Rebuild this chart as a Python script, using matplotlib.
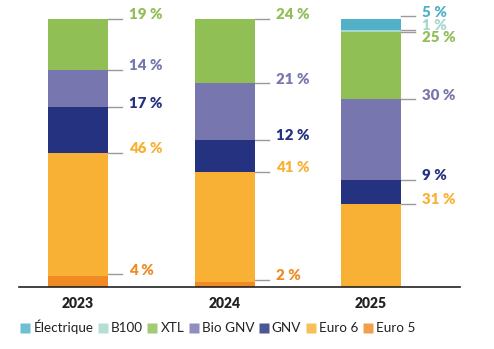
import matplotlib
matplotlib.use("Agg")
import matplotlib.pyplot as plt
from matplotlib.lines import Line2D
import numpy as np

plt.rcParams['font.family'] = ['Lato', 'DejaVu Sans']

years = ["2023", "2024", "2025"]
series = ["Euro 5", "Euro 6", "GNV", "Bio GNV", "XTL", "B100", "Électrique"]
values = {
    "Euro 5":     [4, 2, 0],
    "Euro 6":     [46, 41, 31],
    "GNV":        [17, 12, 9],
    "Bio GNV":    [14, 21, 30],
    "XTL":        [19, 24, 25],
    "B100":       [0, 0, 1],
    "Électrique": [0, 0, 5],
}
colors = {
    "Euro 5": "#F08A24",
    "Euro 6": "#F8B134",
    "GNV": "#25327F",
    "Bio GNV": "#7776AF",
    "XTL": "#8FBF55",
    "B100": "#A5D8CC",
    "Électrique": "#52B0C8",
}

fig = plt.figure(figsize=(4.94, 3.49), dpi=100)
ax = fig.add_axes([19/494, (349-287)/349, 441/494, (287-19)/349])

x = np.arange(len(years))
bw = 0.41
bottom = np.zeros(len(years))
special = {("XTL", 2): -3.5}
for s in series:
    v = np.array(values[s], dtype=float)
    ax.bar(x, v, bw, bottom=bottom, color=colors[s], linewidth=0, zorder=2)
    tops = bottom + v
    for i in range(len(years)):
        if v[i] <= 0:
            continue
        y = tops[i]
        if s == "Euro 5":
            y = tops[i] + 0.7
        xe = x[i] + bw/2
        ax.plot([xe, xe + 0.096], [y, y], color="#9a9a9a", lw=1.0,
                clip_on=False, zorder=1)
        dy = special.get((s, i), 3.0)
        ax.annotate(f"{int(v[i])} %", xy=(xe + 0.143, y), xytext=(0, dy),
                    textcoords="offset points", va="center", ha="left",
                    fontsize=10.8, fontweight="heavy", color=colors[s],
                    annotation_clip=False)
    bottom = tops

ax.set_xlim(-0.403, 2.607)
ax.set_ylim(0, 100)
for sp in ["top", "right", "left"]:
    ax.spines[sp].set_visible(False)
ax.spines["bottom"].set_color("#222222")
ax.spines["bottom"].set_linewidth(1.2)
ax.set_yticks([])
ax.set_xticks(x)
ax.set_xticklabels(years, fontsize=10, fontweight="heavy", color="#222222")
ax.tick_params(axis="x", length=0, pad=7)

legend_order = ["Électrique", "B100", "XTL", "Bio GNV", "GNV", "Euro 6", "Euro 5"]
handles = [Line2D([0], [0], marker="s", linestyle="none", markersize=7,
                  markerfacecolor=colors[s], markeredgecolor="none", alpha=0.82)
           for s in legend_order]
fig.legend(handles, legend_order, loc="center left", bbox_to_anchor=(14/494, 1 - 327/349),
           ncol=7, frameon=False, fontsize=9.7, handlelength=0.7, handletextpad=0.25,
           columnspacing=0.35, borderpad=0, labelcolor="#222222")

fig.savefig("out.png", dpi=100)
